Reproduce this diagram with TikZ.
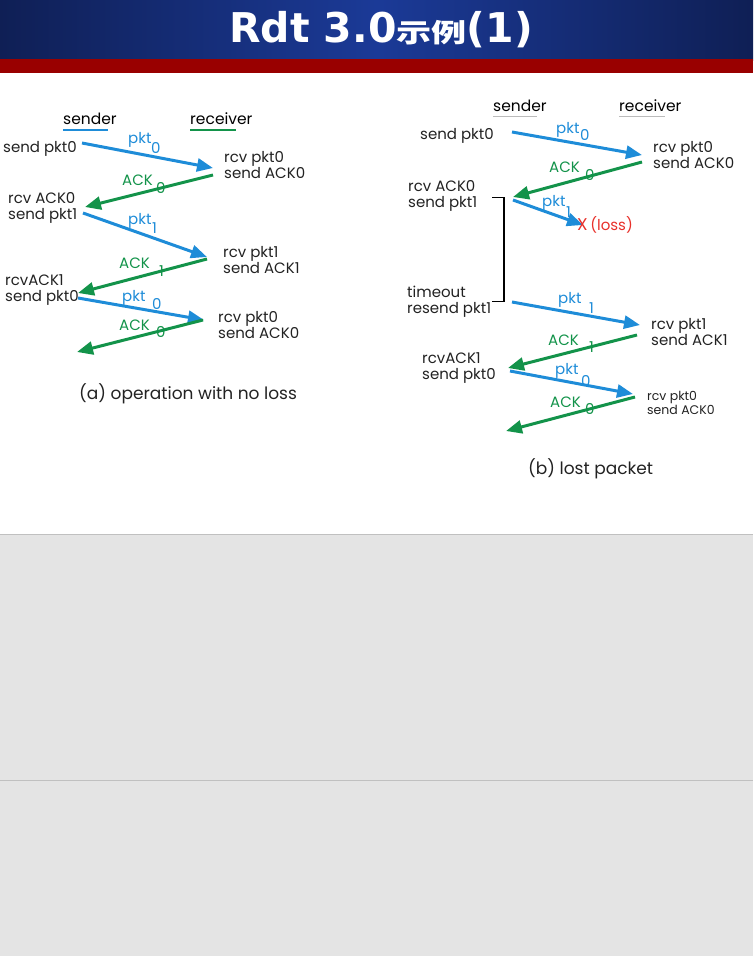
\documentclass[tikz,border=0pt]{standalone}
\usepackage{fontspec}
\setmainfont{Poppins}
\newfontfamily\titlefont{DejaVu Sans}
\newfontfamily\cjkfont{Noto Sans CJK SC}
\usetikzlibrary{arrows.meta}
\definecolor{tdark}{HTML}{0F1F55}
\definecolor{tmid}{HTML}{1B3A97}
\definecolor{tred}{HTML}{990000}
\definecolor{bggray}{HTML}{E4E4E4}
\definecolor{linegray}{HTML}{C0C0C0}
\definecolor{pblue}{HTML}{1E8CD8}
\definecolor{pgreen}{HTML}{13934A}
\definecolor{lossred}{HTML}{E8302A}
\definecolor{ulgray}{HTML}{BBBBBB}
\definecolor{txtgray}{HTML}{222222}
\begin{document}
\begin{tikzpicture}[x=1pt,y=-1pt,
  txt/.style={font=\fontsize{15}{16}\selectfont, anchor=west, inner sep=0pt, align=left, text=txtgray},
  smalltxt/.style={font=\fontsize{12.5}{14}\selectfont, anchor=west, inner sep=0pt, align=left, text=txtgray},
  lbl/.style={font=\fontsize{15}{16}\selectfont, anchor=west, inner sep=0pt},
  hdr/.style={font=\fontsize{15.5}{16}\selectfont, anchor=west, inner sep=0pt, text=black},
  captxt/.style={font=\fontsize{17}{17}\selectfont, anchor=west, inner sep=0pt, text=txtgray},
  arr/.style={line width=3pt, -{Triangle[length=16pt,width=13pt]}},
  pktarr/.style={arr, pblue},
  ackarr/.style={arr, pgreen}]
\useasboundingbox (0,0) rectangle (753,956);
% background bands
\shade[left color=tdark, right color=tdark, middle color=tmid] (0,0) rectangle (753,60);
\fill[tred] (0,59) rectangle (753,73);
\fill[bggray] (0,535) rectangle (753,956);
\draw[linegray, line width=1.2pt] (0,534.5) -- (753,534.5);
\draw[linegray, line width=1.2pt] (0,780.5) -- (753,780.5);
% title
\node[font=\titlefont\bfseries\fontsize{41}{41}\selectfont, text=white, inner sep=0pt] (title) at (381,30)
  {Rdt 3.0\scalebox{1.35}[1]{\cjkfont\bfseries\fontsize{26}{26}\selectfont 示例}(1)};

% ================= (a) =================
\node[hdr] (sa) at (63,119) {sender};
\node[hdr] (ra) at (190,119) {receiver};
\draw[pblue, line width=2pt] (63,130) -- (108,130);
\draw[pgreen, line width=2pt] (190,130) -- (236,130);

\node[txt] (a1) at (3,149) {send pkt0};
\node[txt] (a2) at (224,165.5) {rcv pkt0\\send ACK0};
\node[txt] (a3) at (8,208) {rcv ACK0\\send pkt1};
\node[txt] (a4) at (223,260) {rcv pkt1\\send ACK1};
\node[txt] (a5) at (5,290) {rcvACK1\\send pkt0};
\node[txt] (a6) at (218,325.5) {rcv pkt0\\send ACK0};

\coordinate (a1s) at (82,143);  \coordinate (a1e) at (213,168);
\coordinate (a2s) at (213,175); \coordinate (a2e) at (85,207);
\coordinate (a3s) at (83,213);  \coordinate (a3e) at (207,257);
\coordinate (a4s) at (207,259); \coordinate (a4e) at (78,293);
\coordinate (a5s) at (78,298);  \coordinate (a5e) at (204,320);
\coordinate (a6s) at (203,320); \coordinate (a6e) at (77,352);
\draw[pktarr] (a1s) -- (a1e);
\draw[ackarr] (a2s) -- (a2e);
\draw[pktarr] (a3s) -- (a3e);
\draw[ackarr] (a4s) -- (a4e);
\draw[pktarr] (a5s) -- (a5e);
\draw[ackarr] (a6s) -- (a6e);

\node[lbl, pblue] (la1) at (128,140) {pkt};  \node[lbl, pblue] (la1n) at (151,148) {0};
\node[lbl, pgreen] (la2) at (122,180) {ACK}; \node[lbl, pgreen] (la2n) at (156,188) {0};
\node[lbl, pblue] (la3) at (128,221) {pkt};  \node[lbl, pblue] (la3n) at (152,228) {1};
\node[lbl, pgreen] (la4) at (119,263) {ACK}; \node[lbl, pgreen] (la4n) at (159,271) {1};
\node[lbl, pblue] (la5) at (122,298) {pkt};  \node[lbl, pblue] (la5n) at (152,304) {0};
\node[lbl, pgreen] (la6) at (119,325) {ACK}; \node[lbl, pgreen] (la6n) at (156,332) {0};

\node[captxt] (capa) at (79,394) {(a) operation with no loss};

% ================= (b) =================
\node[hdr] (sb) at (493,106) {sender};
\node[hdr] (rb) at (619,106) {receiver};
\draw[ulgray, line width=1.5pt] (493,116.5) -- (537,116.5);
\draw[ulgray, line width=1.5pt] (619,116.5) -- (665,116.5);

\node[txt] (b1) at (420,136) {send pkt0};
\node[txt] (b2) at (653,155) {rcv pkt0\\send ACK0};
\node[txt] (b3) at (408,196) {rcv ACK0\\send pkt1};
\node[txt] (b4) at (407,301.5) {timeout\\resend pkt1};
\node[txt] (b5) at (651,332) {rcv pkt1\\send ACK1};
\node[txt] (b6) at (422,368) {rcvACK1\\send pkt0};
\node[smalltxt] (b7) at (647,403) {rcv pkt0\\send ACK0};

\coordinate (b1s) at (512,132); \coordinate (b1e) at (642,155);
\coordinate (b2s) at (642,162); \coordinate (b2e) at (513,197);
\coordinate (b3s) at (513,200); \coordinate (b3e) at (583,225);
\coordinate (b4s) at (512,302); \coordinate (b4e) at (640,325);
\coordinate (b5s) at (637,335); \coordinate (b5e) at (508,368);
\coordinate (b6s) at (510,371); \coordinate (b6e) at (633,394);
\coordinate (b7s) at (635,397); \coordinate (b7e) at (506,431);
\draw[pktarr] (b1s) -- (b1e);
\draw[ackarr] (b2s) -- (b2e);
\draw[pktarr] (b3s) -- (b3e);
\draw[pktarr] (b4s) -- (b4e);
\draw[ackarr] (b5s) -- (b5e);
\draw[pktarr] (b6s) -- (b6e);
\draw[ackarr] (b7s) -- (b7e);

\node[lbl, lossred] (loss) at (577,225) {{\fontsize{17}{17}\selectfont X}\,(loss)};

% timeout bracket
\coordinate (bt1) at (492,197.5); \coordinate (bt2) at (504,197.5);
\coordinate (bb1) at (492,301.5); \coordinate (bb2) at (504,301.5);
\draw[black, line width=1.8pt] (bt1) -- (bt2) -- (bb2) -- (bb1);

\node[lbl, pblue] (lb1) at (556,130) {pkt};  \node[lbl, pblue] (lb1n) at (580,135) {0};
\node[lbl, pgreen] (lb2) at (549,167) {ACK}; \node[lbl, pgreen] (lb2n) at (585,175) {0};
\node[lbl, pblue] (lb3) at (542,203) {pkt};  \node[lbl, pblue] (lb3n) at (566,212) {1};
\node[lbl, pblue] (lb4) at (558,300) {pkt};  \node[lbl, pblue] (lb4n) at (589,308) {1};
\node[lbl, pgreen] (lb5) at (548,340) {ACK}; \node[lbl, pgreen] (lb5n) at (589,347) {1};
\node[lbl, pblue] (lb6) at (555,371) {pkt};  \node[lbl, pblue] (lb6n) at (581,381) {0};
\node[lbl, pgreen] (lb7) at (550,402) {ACK}; \node[lbl, pgreen] (lb7n) at (585,409) {0};

\node[captxt] (capb) at (528,469) {(b) lost packet};
\end{tikzpicture}
\end{document}
